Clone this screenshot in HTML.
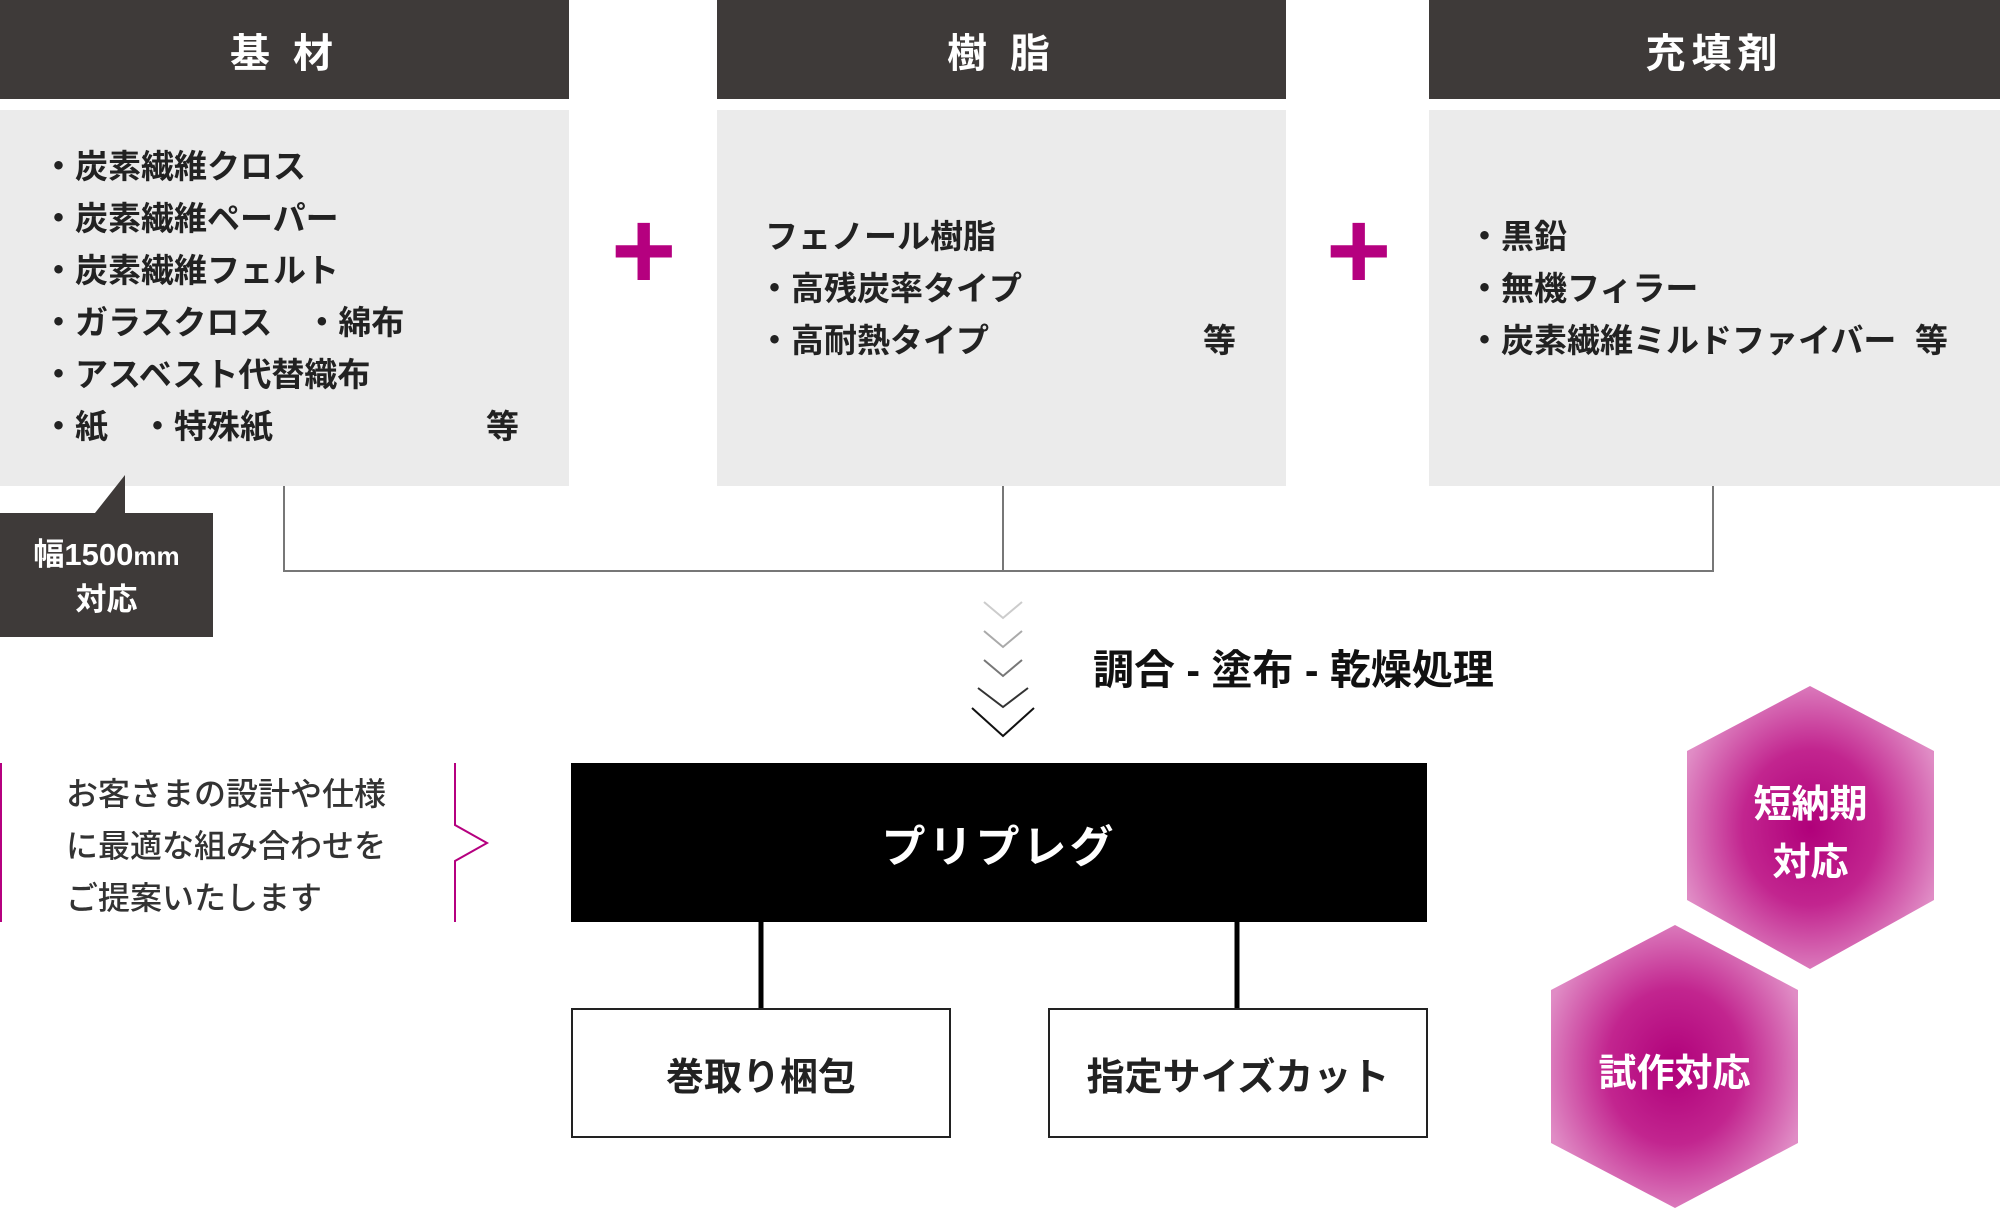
<!DOCTYPE html>
<html><head><meta charset="utf-8"><style>
body{margin:0;width:2000px;height:1210px;background:#fff;position:relative;overflow:hidden;font-family:"Liberation Sans","Noto Sans CJK JP",sans-serif;font-weight:bold}
.a{position:absolute}
.hd{position:absolute;top:0;height:99px;background:#3e3a39;color:#fff;font-size:40px;display:flex;align-items:center;justify-content:center;letter-spacing:6px}
.gb{position:absolute;top:110px;height:376px;background:#ebebeb}
.t{position:absolute;font-size:33px;color:#222;white-space:nowrap;line-height:40px}
.plus{position:absolute;color:#b5007f;font-size:112px;font-weight:bold;line-height:1}
.bx{position:absolute;border:2px solid #222;background:#fff;display:flex;align-items:center;justify-content:center;font-size:38px;color:#222;box-sizing:border-box}
</style></head><body>
<div class="hd" style="left:0;width:569px">基 材</div>
<div class="hd" style="left:717px;width:569px">樹 脂</div>
<div class="hd" style="left:1429px;width:571px">充填剤</div>
<div class="gb" style="left:0;width:569px"></div>
<div class="gb" style="left:717px;width:569px"></div>
<div class="gb" style="left:1429px;width:571px"></div>

<div class="t" style="left:42px;top:147px">・炭素繊維クロス</div>
<div class="t" style="left:42px;top:199px">・炭素繊維ペーパー</div>
<div class="t" style="left:42px;top:251px">・炭素繊維フェルト</div>
<div class="t" style="left:42px;top:303px">・ガラスクロス　・綿布</div>
<div class="t" style="left:42px;top:355px">・アスベスト代替織布</div>
<div class="t" style="left:42px;top:407px">・紙　・特殊紙</div>
<div class="t" style="left:486px;top:407px">等</div>

<div class="t" style="left:765px;top:217px">フェノール樹脂</div>
<div class="t" style="left:758px;top:269px">・高残炭率タイプ</div>
<div class="t" style="left:758px;top:321px">・高耐熱タイプ</div>
<div class="t" style="left:1203px;top:321px">等</div>

<div class="t" style="left:1468px;top:217px">・黒鉛</div>
<div class="t" style="left:1468px;top:269px">・無機フィラー</div>
<div class="t" style="left:1468px;top:321px">・炭素繊維ミルドファイバー</div>
<div class="t" style="left:1915px;top:321px">等</div>

<div class="plus" style="left:611px;top:195px">+</div>
<div class="plus" style="left:1326px;top:195px">+</div>

<svg class="a" style="left:0;top:0" width="2000" height="1210">
<polyline points="284,486 284,571 1713,571 1713,486" fill="none" stroke="#777" stroke-width="2"/>
<line x1="1003" y1="486" x2="1003" y2="571" stroke="#777" stroke-width="2"/>
<polygon points="125,475 125,513 95,513" fill="#3e3a39"/>
<rect x="0" y="513" width="213" height="124" fill="#3e3a39"/>
<g fill="none" stroke-width="2">
<polyline points="984,602 1003,618 1022,602" stroke="#ccc"/>
<polyline points="984,631 1003,647 1022,631" stroke="#aaa"/>
<polyline points="984,660 1003,676 1022,660" stroke="#777"/>
<polyline points="978,688 1003,707 1028,688" stroke="#333"/>
<polyline points="972,708 1003,736 1034,708" stroke="#111"/>
</g>
<line x1="1" y1="763" x2="1" y2="922" stroke="#b5007f" stroke-width="2"/>
<polyline points="455,763 455,825 487,843 455,861 455,922" fill="none" stroke="#b5007f" stroke-width="2"/>
<rect x="571" y="763" width="856" height="159" fill="#000"/>
<line x1="761" y1="922" x2="761" y2="1008" stroke="#000" stroke-width="5"/>
<line x1="1237" y1="922" x2="1237" y2="1008" stroke="#000" stroke-width="5"/>
<defs><radialGradient id="g" cx="50%" cy="50%" r="55%"><stop offset="0" stop-color="#b0007a"/><stop offset="0.5" stop-color="#c2258f"/><stop offset="1" stop-color="#e08cc5"/></radialGradient></defs>
<polygon points="1810,686 1934,751 1934,900 1810,969 1687,900 1687,751" fill="url(#g)"/>
<polygon points="1675,925 1798,990 1798,1143 1675,1208 1551,1143 1551,990" fill="url(#g)"/>
</svg>
<div class="a" style="left:0;top:533px;width:213px;color:#fff;font-size:31px;text-align:center;line-height:44px">幅1500<span style="font-size:26px">mm</span><br>対応</div>
<div class="a" style="left:1093px;top:636px;font-size:41px;color:#111">調合 - 塗布 - 乾燥処理</div>
<div class="a" style="left:66px;top:768px;font-size:32px;color:#333;font-weight:500;line-height:52px">お客さまの設計や仕様<br>に最適な組み合わせを<br>ご提案いたします</div>
<div class="a" style="left:571px;top:763px;width:856px;height:159px;display:flex;align-items:center;justify-content:center;color:#fff;font-size:44px;letter-spacing:3px">プリプレグ</div>
<div class="bx" style="left:571px;top:1008px;width:380px;height:130px">巻取り梱包</div>
<div class="bx" style="left:1048px;top:1008px;width:380px;height:130px">指定サイズカット</div>
<div class="a" style="left:1687px;top:776px;width:247px;text-align:center;color:#fff;font-size:38px;line-height:58px">短納期<br>対応</div>
<div class="a" style="left:1551px;top:1042px;width:247px;text-align:center;color:#fff;font-size:38px">試作対応</div>
</body></html>
